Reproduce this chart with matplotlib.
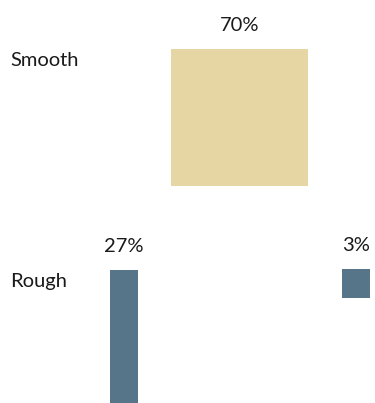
import numpy as np
import matplotlib.pyplot as plt
from matplotlib.patches import Rectangle

# Share of surfaces per category
categories = ['Smooth', 'Rough', 'Rough']
values = [70, 27, 3]
value_labels = ['70%', '27%', '3%']
colors = ['#E5D6A3', '#567589', '#567589']

# layout (pixel units, y grows downward)
px_per_pct = 137 ** 2 / 70          # area of one percent
widths = [np.sqrt(70 * px_per_pct), 28, 28]
centers = [239.5, 124, 356]
tops = [49, 270, 269]
row_label_y = {'Smooth': 66, 'Rough': 287}

plt.rcParams['font.family'] = ['Lato', 'DejaVu Sans']

fig = plt.figure(figsize=(3.75, 4.03), dpi=100)
ax = fig.add_axes([0, 0, 1, 1])
ax.set_xlim(0, 375)
ax.set_ylim(403, 0)
ax.axis('off')

for cat, v, lab, c, w, cx, top in zip(categories, values, value_labels, colors, widths, centers, tops):
    h = v * px_per_pct / w
    ax.add_patch(Rectangle((cx - w / 2, top), w, h, facecolor=c, edgecolor='none'))
    ax.text(cx, top - 18, lab, ha='center', va='baseline', fontsize=14.5, color='#1a1a1a')

for cat, y in row_label_y.items():
    ax.text(10, y, cat, ha='left', va='baseline', fontsize=14.5, color='#1a1a1a')

fig.savefig('out.png', dpi=100)
